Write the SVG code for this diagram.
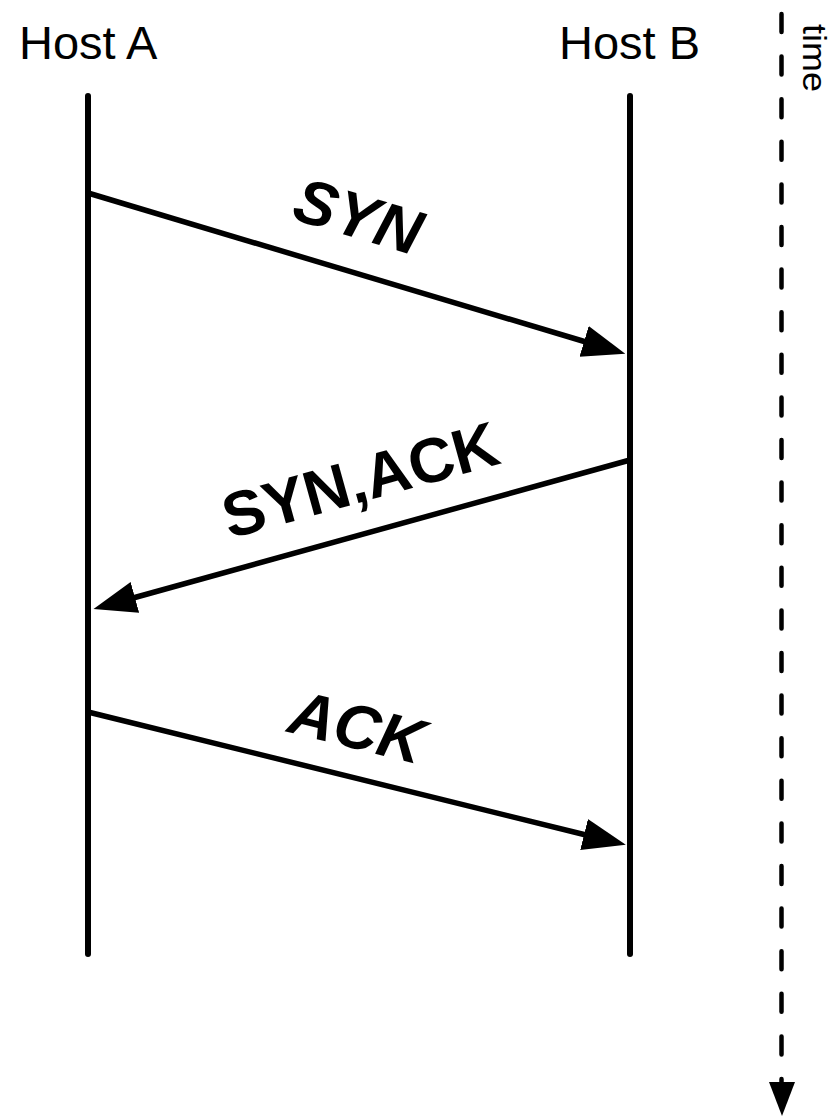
<svg xmlns="http://www.w3.org/2000/svg" width="833" height="1117" viewBox="0 0 833 1117">
  <style>
    .host { font-family: "Liberation Sans", Arial, sans-serif; font-size: 47px; fill: #000; }
    .msg { font-family: "Liberation Sans", Arial, sans-serif; font-size: 63px; font-weight: bold; fill: #000; text-anchor: middle; }
    .it { font-style: italic; }
    .life { stroke: #000; stroke-width: 6; stroke-linecap: round; fill: none; }
    .wire { stroke: #000; stroke-width: 5.5; fill: none; }
  </style>
  <defs>
    <marker id="head" markerUnits="userSpaceOnUse" markerWidth="46" markerHeight="34" viewBox="0 -17 46 34" refX="2" refY="0" orient="auto">
      <path d="M0,-16 L43,0 L0,16 Z" fill="#000"/>
    </marker>
  </defs>

  <g id="hostA">
    <text class="host" x="19" y="59">Host A</text>
    <line class="life" x1="88" y1="96" x2="88" y2="954"/>
  </g>

  <g id="hostB">
    <text class="host" x="559" y="59">Host B</text>
    <line class="life" x1="630" y1="96" x2="630" y2="954"/>
  </g>

  <g id="timeline">
    <line x1="781.5" y1="14" x2="781.5" y2="1086" stroke="#000" stroke-width="4.5" stroke-linecap="round" stroke-dasharray="18 24.6"/>
    <path d="M769,1082 L795,1082 L782,1116 Z" fill="#000"/>
    <text transform="translate(803,24) rotate(90)" font-family="Liberation Sans, Arial, sans-serif" font-size="33" fill="#000" textLength="68" lengthAdjust="spacingAndGlyphs">time</text>
  </g>

  <g id="connectors">
    <line class="wire" x1="88" y1="193" x2="586" y2="342" marker-end="url(#head)"/>
    <line class="wire" x1="630" y1="460" x2="133" y2="598" marker-end="url(#head)"/>
    <line class="wire" x1="88" y1="712" x2="586" y2="835" marker-end="url(#head)"/>
  </g>

  <g id="labels">
    <text class="msg it" transform="translate(352,237) rotate(16.6)">SYN</text>
    <text class="msg" transform="translate(366,501) rotate(-15.5)">SYN,ACK</text>
    <text class="msg it" transform="translate(352,748) rotate(13.9)">ACK</text>
  </g>
</svg>
